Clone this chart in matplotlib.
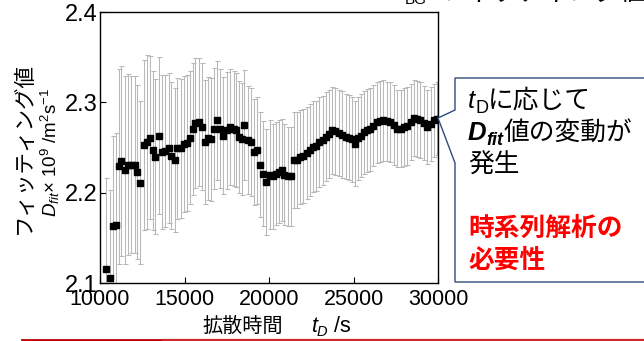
import matplotlib
matplotlib.use("Agg")
import matplotlib.pyplot as plt
from matplotlib.patches import Polygon
from matplotlib.lines import Line2D

plt.rcParams["font.family"] = ["Liberation Sans", "Noto Sans CJK JP"]
plt.rcParams["mathtext.fontset"] = "custom"
plt.rcParams["mathtext.rm"] = "Liberation Sans"
plt.rcParams["mathtext.it"] = "Liberation Sans:italic"
plt.rcParams["mathtext.bf"] = "Liberation Sans:bold"

JP = ["Noto Sans CJK JP", "Liberation Sans"]

# diffusion time t_D [s]
t_d = [10380, 10570, 10740, 10920, 11100, 11270, 11470, 11670, 11860, 12050,
       12200, 12380, 12580, 12770, 12950, 13110, 13270, 13470, 13670, 13870,
       14060, 14230, 14420, 14580, 14780, 14970, 15150, 15320, 15480, 15650,
       15840, 16010, 16190, 16390, 16590, 16760, 16930, 17100, 17300, 17500,
       17700, 17900, 18070, 18240, 18430, 18550, 18730, 18930, 19090, 19290,
       19480, 19650, 19850, 20030, 20210, 20390, 20580, 20760, 20910, 21100,
       21290, 21460, 21650, 21840, 22040, 22230, 22430, 22590, 22790, 22980,
       23170, 23370, 23550, 23730, 23930, 24140, 24330, 24530, 24730, 24930,
       25090, 25250, 25430, 25610, 25810, 25980, 26180, 26380, 26580, 26770,
       26960, 27170, 27380, 27590, 27790, 27980, 28180, 28380, 28570, 28760,
       28960, 29150, 29360, 29560, 29760, 29960]

# fitted D x 1e9 [m2/s]
d_fit = [2.116, 2.106, 2.163, 2.164, 2.229, 2.235, 2.225, 2.231, 2.231, 2.231,
         2.223, 2.211, 2.253, 2.256, 2.261, 2.247, 2.240, 2.263, 2.245, 2.246,
         2.249, 2.241, 2.236, 2.249, 2.249, 2.254, 2.255, 2.261, 2.270, 2.277,
         2.278, 2.273, 2.256, 2.260, 2.259, 2.271, 2.280, 2.271, 2.263, 2.269,
         2.273, 2.271, 2.269, 2.262, 2.259, 2.275, 2.258, 2.256, 2.245, 2.247,
         2.231, 2.221, 2.212, 2.220, 2.218, 2.221, 2.223, 2.225, 2.220, 2.218,
         2.218, 2.236, 2.236, 2.239, 2.241, 2.244, 2.247, 2.251, 2.252, 2.256,
         2.258, 2.262, 2.265, 2.269, 2.268, 2.266, 2.264, 2.262, 2.261, 2.259,
         2.254, 2.260, 2.263, 2.267, 2.269, 2.270, 2.274, 2.278, 2.279, 2.280,
         2.279, 2.278, 2.275, 2.271, 2.271, 2.273, 2.274, 2.278, 2.283, 2.282,
         2.280, 2.277, 2.273, 2.276, 2.280, 2.282]

# standard deviation of each fit
d_err = [0.100, 0.097, 0.100, 0.102, 0.108, 0.105, 0.104, 0.100, 0.098, 0.098,
         0.096, 0.090, 0.094, 0.096, 0.090, 0.088, 0.086, 0.087, 0.085, 0.084,
         0.083, 0.081, 0.080, 0.078, 0.077, 0.075, 0.075, 0.074, 0.073, 0.072,
         0.071, 0.070, 0.069, 0.068, 0.068, 0.067, 0.066, 0.066, 0.065, 0.065,
         0.064, 0.064, 0.063, 0.062, 0.062, 0.061, 0.060, 0.060, 0.059, 0.059,
         0.058, 0.058, 0.059, 0.060, 0.058, 0.057, 0.057, 0.056, 0.056, 0.055,
         0.055, 0.053, 0.053, 0.052, 0.052, 0.051, 0.051, 0.050, 0.050, 0.050,
         0.049, 0.049, 0.049, 0.048, 0.048, 0.048, 0.048, 0.047, 0.047, 0.047,
         0.047, 0.046, 0.046, 0.046, 0.046, 0.046, 0.045, 0.045, 0.045, 0.045,
         0.044, 0.044, 0.044, 0.043, 0.043, 0.043, 0.043, 0.042, 0.042, 0.042,
         0.042, 0.041, 0.041, 0.041, 0.040, 0.040]

x_ticks = [10000, 15000, 20000, 25000, 30000]
y_ticks = [2.1, 2.2, 2.3, 2.4]

W, H = 644, 341
fig = plt.figure(figsize=(W / 100, H / 100), dpi=100)

ax = fig.add_axes([100 / W, 1 - 283 / H, 338 / W, 271 / H])
ax.errorbar(t_d, d_fit, yerr=d_err, fmt="s", ms=4, mfc="black", mec="black",
            ecolor="#b8b8b8", elinewidth=0.75, capsize=1.8, capthick=0.75)
ax.set_xlim(10000, 30000)
ax.set_ylim(2.1, 2.4)
ax.set_xticks(x_ticks)
ax.set_yticks(y_ticks)
ax.yaxis.set_major_formatter(lambda v, p: f"{v:.1f}")
ax.tick_params(direction="in", length=4.5, width=0.8)
ax.tick_params(axis="x", pad=4, labelsize=15.5)
ax.tick_params(axis="y", pad=2, labelsize=17)
for sp in ax.spines.values():
    sp.set_linewidth(1.0)

# pixel-space overlay for labels and the callout
ov = fig.add_axes([0, 0, 1, 1])
ov.set_xlim(0, W)
ov.set_ylim(H, 0)
ov.axis("off")


def put_runs(x0, y, runs):
    prev = None
    for s, dy, kw in runs:
        if prev is None:
            prev = ov.text(x0, y + dy, s, va="baseline", **kw)
        else:
            prev = ov.annotate(s, xy=(1, y + dy), xycoords=(prev, "data"),
                               va="baseline", ha="left", **kw)
    return prev


# y label (two rotated lines)
ov.text(24, 148, "フィッティング値", rotation=90, ha="center", va="center",
        fontsize=15.5, family=JP)
ov.text(50, 152, r"$D_{fit}$× 10$^{9}$ /m$^{2}$s$^{-1}$", rotation=90,
        ha="center", va="center", fontsize=13.5)

# x label
ov.text(202, 332, "拡散時間", va="baseline", fontsize=14.5, family=JP)
put_runs(311, 332, [("t", 0, dict(fontsize=15.5, style="italic")),
                    ("D", 4, dict(fontsize=10.5, style="italic")),
                    (" /s", 0, dict(fontsize=15.5))])

# callout box pointing at the last point
box = Polygon([(455, 110), (438, 118), (455, 163), (455, 282), (660, 282),
               (660, 78), (455, 78)], closed=True, facecolor="white",
              edgecolor="#2f4b7c", linewidth=1.0)
ov.add_patch(box)

fs = 18.5
put_runs(468, 108, [("t", 0, dict(fontsize=fs, style="italic")),
                    ("D", 5, dict(fontsize=13)),
                    ("に応じて", 0, dict(fontsize=fs, family=JP))])
put_runs(468, 140, [("D", 0, dict(fontsize=fs, style="italic", weight="bold")),
                    ("fit", 5, dict(fontsize=13, style="italic", weight="bold")),
                    ("値の変動が", 0, dict(fontsize=fs, family=JP))])
ov.text(468, 173, "発生", va="baseline", fontsize=fs, family=JP)
ov.text(468, 236, "時系列解析の", va="baseline", fontsize=fs, family=JP,
        color="#ff0000", weight="bold")
ov.text(468, 268, "必要性", va="baseline", fontsize=fs, family=JP,
        color="#ff0000", weight="bold")

# heading cut off at the top edge
ov.text(405, 4, "BG", va="baseline", fontsize=11)
ov.text(440, 0, "フィッティング値", va="baseline", fontsize=fs, family=JP)

# footer rule
ov.add_line(Line2D([22, 163], [339.5, 339.5], color="#c00000", linewidth=2.0))
ov.add_line(Line2D([163, W], [339.5, 339.5], color="#d02828", linewidth=1.6))

fig.savefig("out.png", dpi=100)
